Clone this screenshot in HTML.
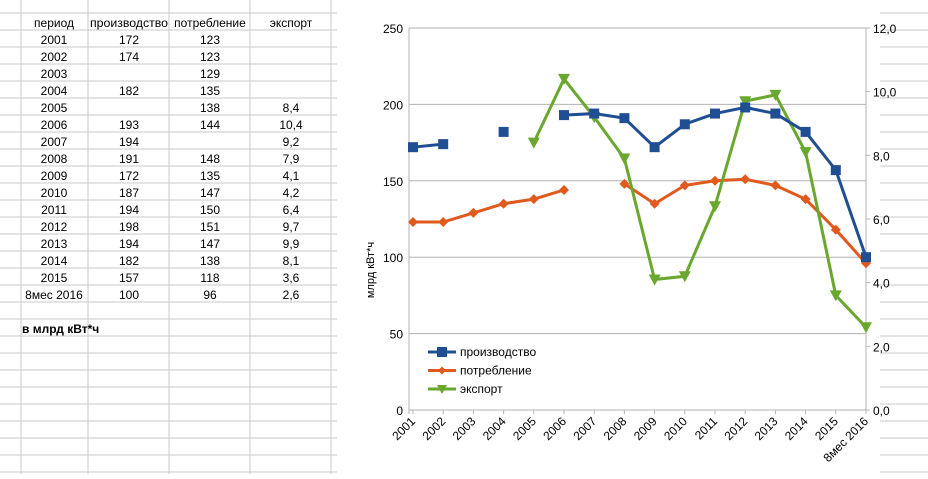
<!DOCTYPE html>
<html><head><meta charset="utf-8"><style>
body{margin:0;background:#fff;font-family:"Liberation Sans",sans-serif}
svg text{font-family:"Liberation Sans",sans-serif}
</style></head><body>
<svg id="s" width="928" height="474" xmlns="http://www.w3.org/2000/svg">
<g id="grid"></g>
<g id="table"></g>
<rect x="337" y="0" width="543" height="474" fill="#fff"/>
<g id="chart"></g>
</svg>
<script>
const categories=["2001","2002","2003","2004","2005","2006","2007","2008","2009","2010","2011","2012","2013","2014","2015","8мес 2016"];
const axisLabels=["2001","2002","2003","2004","2005","2006","2007","2008","2009","2010","2011","2012","2013","2014","2015","8мес 2016"];
const production=[172,174,null,182,null,193,194,191,172,187,194,198,194,182,157,100];
const consumption=[123,123,129,135,138,144,null,148,135,147,150,151,147,138,118,96];
const exportVals=[null,null,null,null,8.4,10.4,9.2,7.9,4.1,4.2,6.4,9.7,9.9,8.1,3.6,2.6];
const exportText=["","","","","8,4","10,4","9,2","7,9","4,1","4,2","6,4","9,7","9,9","8,1","3,6","2,6"];
const leftTicks=[0,50,100,150,200,250];
const rightTicks=["0,0","2,0","4,0","6,0","8,0","10,0","12,0"];
const NS="http://www.w3.org/2000/svg";
function mk(p,t,a,txt){const e=document.createElementNS(NS,t);for(const k in a)e.setAttribute(k,a[k]);if(txt!==undefined)e.textContent=txt;p.appendChild(e);return e;}
const grid=document.getElementById('grid'),table=document.getElementById('table'),chart=document.getElementById('chart');
// sheet grid
for(let y=13;y<474;y+=17){const l=mk(grid,'line',{x1:0,x2:928,y1:y,y2:y,stroke:'#c8c8c8'});

}
[21,88,169,250,331].forEach(x=>{const l=mk(grid,'line',{x1:x,x2:x,y1:0,y2:474,stroke:'#c8c8c8'});

});
// table
const colsX=[54,129,210,291];
["период","производство","потребление","экспорт"].forEach((h,i)=>{const t=mk(table,'text',{x:colsX[i],y:27,'font-size':12,'text-anchor':'middle',fill:'#000'},h);
if(i==1){t.setAttribute('textLength','78');t.setAttribute('lengthAdjust','spacingAndGlyphs');}

});
categories.forEach((c,i)=>{const y=44+17*i;
const a=mk(table,'text',{x:colsX[0],y:y,'font-size':12,'text-anchor':'middle'},c);


if(production[i]!==null){const b=mk(table,'text',{x:colsX[1],y:y,'font-size':12,'text-anchor':'middle'},production[i]);

}
if(consumption[i]!==null){const b=mk(table,'text',{x:colsX[2],y:y,'font-size':12,'text-anchor':'middle'},consumption[i]);

}
if(exportText[i]){const b=mk(table,'text',{x:colsX[3],y:y,'font-size':12,'text-anchor':'middle'},exportText[i]);

}
});
const note=mk(table,'text',{x:22,y:333,'font-size':12,'font-weight':'bold'},"в млрд кВт*ч");


// chart axes
const X0=413,DX=(866-413)/15,Y0=410,YT=28;
const xs=i=>X0+DX*i, yl=v=>Y0-(v/250)*(Y0-YT), yr=v=>Y0-(v/12)*(Y0-YT);
leftTicks.forEach(v=>{const l=mk(chart,'line',{x1:409,x2:866,y1:yl(v),y2:yl(v),stroke:'#b3b3b3'});


const t=mk(chart,'text',{x:403,y:yl(v)+5,'font-size':12,'text-anchor':'end'},v);

});
mk(chart,'line',{x1:409,x2:409,y1:YT,y2:Y0+4,stroke:'#b3b3b3'});
mk(chart,'line',{x1:866,x2:866,y1:YT,y2:Y0,stroke:'#b3b3b3'});
rightTicks.forEach((s,i)=>{const v=i*2;mk(chart,'line',{x1:866,x2:870,y1:yr(v),y2:yr(v),stroke:'#b3b3b3'});
const t=mk(chart,'text',{x:873,y:yr(v)+5,'font-size':12},s);

});
axisLabels.forEach((c,i)=>{mk(chart,'line',{x1:xs(i),x2:xs(i),y1:Y0,y2:Y0+4,stroke:'#b3b3b3'});
const t=mk(chart,'text',{x:xs(i)+3,y:Y0+12,'font-size':12,'text-anchor':'end',transform:`rotate(-45 ${xs(i)+3} ${Y0+12})`},c);

});
const yt=mk(chart,'text',{x:374,y:270,'font-size':11,'text-anchor':'middle',transform:'rotate(-90 374 270)'},"млрд кВт*ч");


function series(vals,sc,color,shape,name){
 const g=mk(chart,'g',{});
 
 
 let seg=[];const segs=[];
 vals.forEach((v,i)=>{if(v===null){if(seg.length)segs.push(seg);seg=[];}else seg.push([xs(i),sc(v)]);});
 if(seg.length)segs.push(seg);
 segs.forEach(s=>{if(s.length>1)mk(g,'polyline',{points:s.map(p=>p.join(',')).join(' '),fill:'none',stroke:color,'stroke-width':3});});
 vals.forEach((v,i)=>{if(v===null)return;const x=xs(i),y=sc(v);let m;
  if(shape=='sq')m=mk(g,'rect',{x:x-5,y:y-5,width:10,height:10,fill:color});
  else if(shape=='dia')m=mk(g,'polygon',{points:`${x},${y-5} ${x+5},${y} ${x},${y+5} ${x-5},${y}`,fill:color});
  else m=mk(g,'polygon',{points:`${x-6},${y-5} ${x+6},${y-5} ${x},${y+6}`,fill:color});
  
  });
}
series(consumption,yl,'#e05a1e','dia','consumption');
series(exportVals,yr,'#6aa72e','tri','export');
series(production,yl,'#1f4e93','sq','production');
// legend
[["производство",'#1f4e93','sq'],["потребление",'#e05a1e','dia'],["экспорт",'#6aa72e','tri']].forEach((e,i)=>{
 const y=352+18.5*i;const g=mk(chart,'g',{});
 
 
 mk(g,'line',{x1:428,x2:456,y1:y,y2:y,stroke:e[1],'stroke-width':3});
 const x=442;
 if(e[2]=='sq')mk(g,'rect',{x:x-5,y:y-5,width:10,height:10,fill:e[1]});
 else if(e[2]=='dia')mk(g,'polygon',{points:`${x},${y-4} ${x+4},${y} ${x},${y+4} ${x-4},${y}`,fill:e[1]});
 else mk(g,'polygon',{points:`${x-5},${y-4} ${x+5},${y-4} ${x},${y+5}`,fill:e[1]});
 mk(g,'text',{x:460,y:y+4,'font-size':12},e[0]);
});
</script>
</body></html>
